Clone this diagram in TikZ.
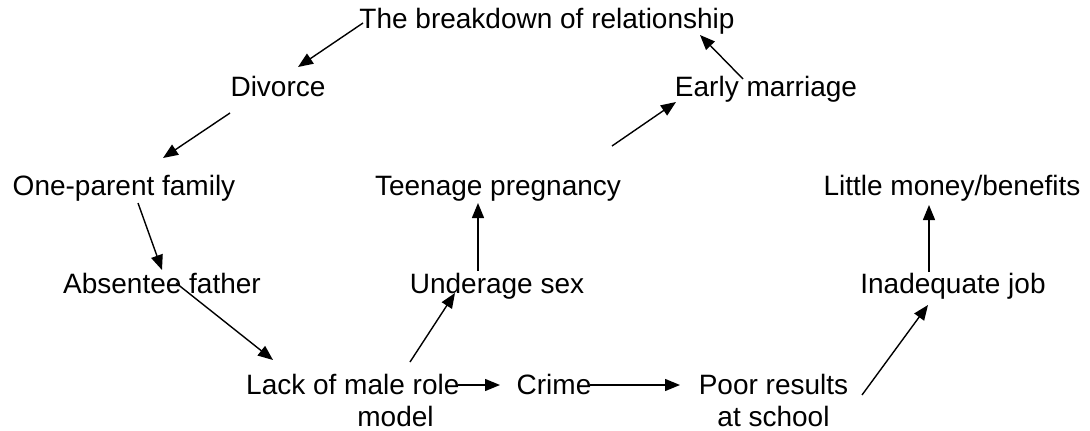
\documentclass[tikz,border=0pt]{standalone}
\usepackage{fontspec}
\setmainfont{Liberation Sans}
\usetikzlibrary{arrows.meta}

\begin{document}
\begin{tikzpicture}[x=1pt,y=1pt,>={Triangle[length=15pt,width=12pt]}]
					\tikzstyle{every node}+=[inner sep=0pt,font=\fontsize{28}{32}\selectfont]
					\tikzstyle{link}=[black,line width=1.4pt,->]
					\useasboundingbox (0,0) rectangle (1090,-431);
					\node [anchor=base] (breakdown) at (547,-28) {The breakdown of relationship};
					\node [anchor=base] (divorce) at (278,-96) {Divorce};
					\node [anchor=base] (early) at (766,-96) {Early marriage};
					\node [anchor=base] (oneparent) at (124,-195) {One-parent family};
					\node [anchor=base] (teen) at (498,-195) {Teenage pregnancy};
					\node [anchor=base] (money) at (952,-195) {Little money/benefits};
					\node [anchor=base] (absent) at (162,-293) {Absentee father};
					\node [anchor=base] (underage) at (497,-293) {Underage sex};
					\node [anchor=base] (inadequate) at (953,-293) {Inadequate job};
					\node [anchor=base west,align=left] (lack) at (246,-426) {Lack of male role\\\hspace*{3.97em}model};
					\node [anchor=base] (crime) at (554,-394) {Crime};
					\node [anchor=base,align=center] (poor) at (773.5,-426) {Poor results\\at school};
					\draw [link] ([shift={(-184,5)}]breakdown.base) -- ([shift={(20,29)}]divorce.base);
					\draw [link] ([shift={(-48,-17)}]divorce.base) -- ([shift={(39,37)}]oneparent.base);
					\draw [link] ([shift={(14,-8)}]oneparent.base) -- ([shift={(0,23)}]absent.base);
					\draw [link] ([shift={(14,10)}]absent.base) -- ([shift={(27,66)}]lack.base west);
					\draw [link] ([shift={(164,64)}]lack.base west) -- ([shift={(-42,0)}]underage.base);
					\draw [link] ([shift={(-19,22)}]underage.base) -- ([shift={(-20,-8)}]teen.base);
					\draw [link] ([shift={(114,49)}]teen.base) -- ([shift={(-90,-6)}]early.base);
					\draw [link] ([shift={(-23,17)}]early.base) -- ([shift={(153,-7)}]breakdown.base);
					\draw [link] ([shift={(-2,41)}]lack.base east) -- ([shift={(-54,9)}]crime.base);
					\draw [link] ([shift={(36,9)}]crime.base) -- ([shift={(-93.5,41)}]poor.base);
					\draw [link] ([shift={(88.5,31)}]poor.base) -- ([shift={(-25,-12)}]inadequate.base);
					\draw [link] ([shift={(-24,21)}]inadequate.base) -- ([shift={(-23,-10)}]money.base);
				\end{tikzpicture}
\end{document}
